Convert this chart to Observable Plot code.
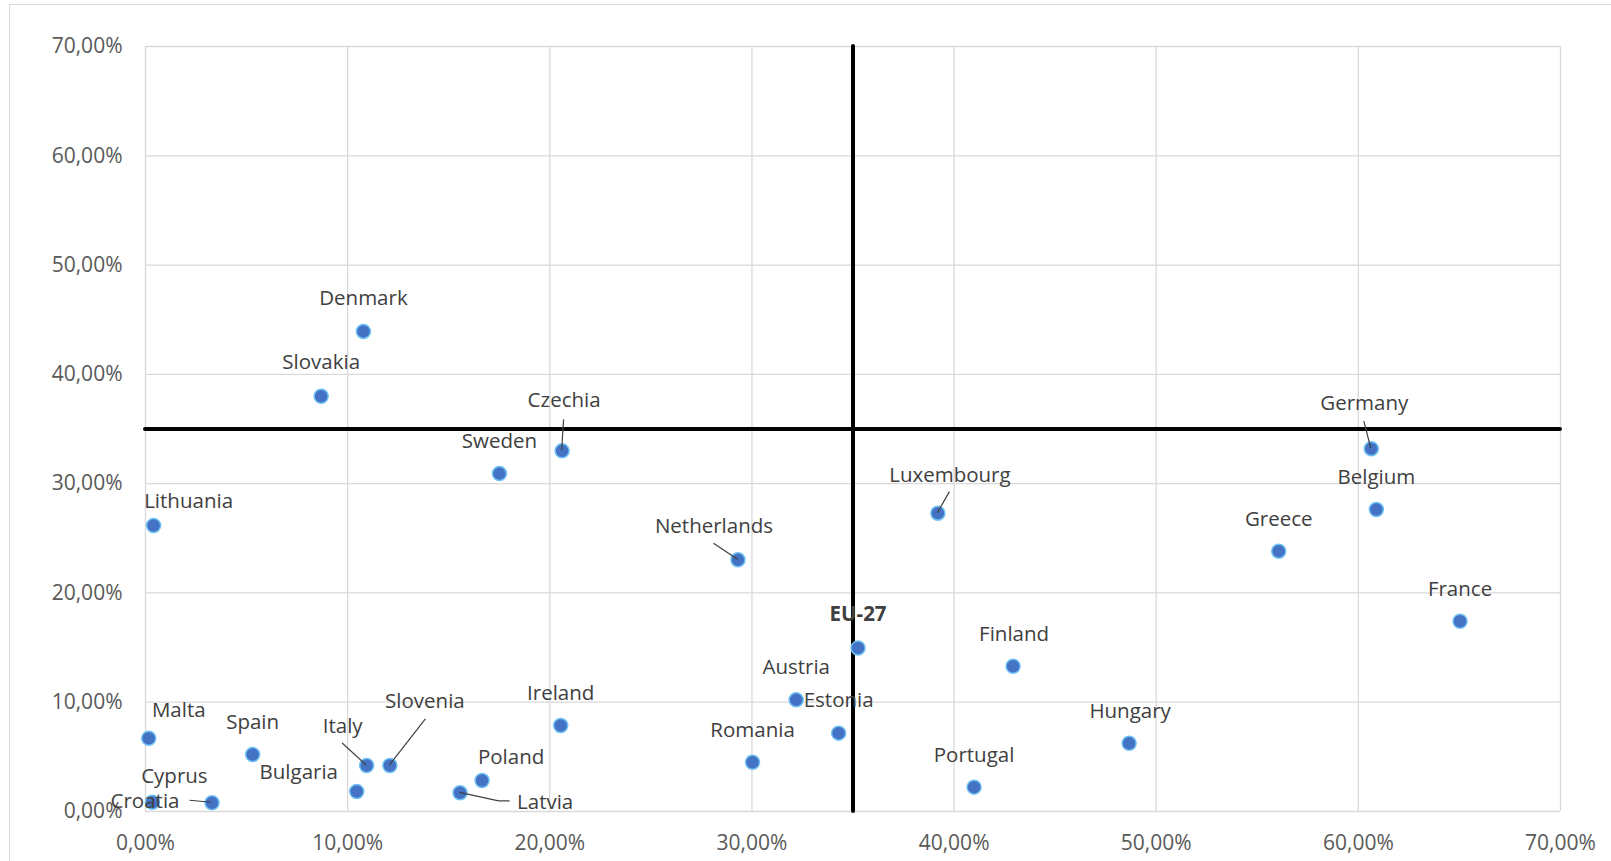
<!DOCTYPE html>
<html>
<head>
<meta charset="utf-8">
<script src="https://cdn.jsdelivr.net/npm/d3@7"></script>
<script src="https://cdn.jsdelivr.net/npm/@observablehq/plot@0.6"></script>
<style>
  html, body { margin: 0; padding: 0; background: #fff; }
  #wrap { position: relative; width: 1611px; height: 861px; overflow: hidden; }
  #border { position: absolute; left: 9px; top: 4px; width: 1700px; height: 1000px; border-top: 1.5px solid #d9d9d9; border-left: 1.5px solid #d9d9d9; pointer-events: none; }
  svg { font-family: "Open Sans", sans-serif; }
</style>
</head>
<body>
<div id="wrap"><div id="border"></div><div id="chart"></div></div>
<script>
// ---- data ----
const countries = ["Denmark","Slovakia","Czechia","Sweden","Netherlands","Lithuania","Luxembourg","Germany","Belgium","Greece","France","EU-27","Austria","Estonia","Romania","Ireland","Portugal","Finland","Hungary","Malta","Spain","Italy","Slovenia","Bulgaria","Poland","Latvia","Cyprus","Croatia"];
const xValues = [10.78, 8.69, 20.61, 17.51, 29.31, 0.40, 39.20, 60.64, 60.89, 56.06, 65.03, 35.25, 32.19, 34.29, 30.03, 20.54, 40.99, 42.92, 48.66, 0.16, 5.30, 10.94, 12.09, 10.45, 16.65, 15.56, 0.34, 3.29];
const yValues = [43.93, 38.00, 33.00, 30.92, 23.03, 26.17, 27.30, 33.20, 27.63, 23.82, 17.41, 14.97, 10.22, 7.17, 4.51, 7.87, 2.23, 13.29, 6.24, 6.70, 5.21, 4.21, 4.21, 1.83, 2.84, 1.71, 0.85, 0.80];
const xTicks = [0, 10, 20, 30, 40, 50, 60, 70];
const yTicks = [0, 10, 20, 30, 40, 50, 60, 70];
const refX = 35;   // EU-27 reference line (x)
const refY = 35;   // EU-27 reference line (y)

// ---- label placement (pixel offsets from the point) ----
const labelOffsets = {
  "Denmark": [0, -33], "Slovakia": [0, -34], "Czechia": [2, -50], "Sweden": [0, -32],
  "Netherlands": [-24, -33], "Lithuania": [35, -24], "Luxembourg": [12, -38], "Germany": [-7, -45],
  "Belgium": [0, -32], "Greece": [0, -32], "France": [0, -32], "EU-27": [0, -33],
  "Austria": [0, -32], "Estonia": [0, -33], "Romania": [0, -32], "Ireland": [0, -32],
  "Portugal": [0, -32], "Finland": [1, -32], "Hungary": [1, -32], "Malta": [30, -28],
  "Spain": [0, -32], "Italy": [-24, -39], "Slovenia": [35, -64], "Bulgaria": [-58, -19],
  "Poland": [29, -23], "Latvia": [57, 10], "Cyprus": [22, -26], "Croatia": [-67, -1.5]
};
const leaderPaths = {
  "Czechia": [[2, -31], [0, 0]],
  "Netherlands": [[-24, -16], [0, 0]],
  "Luxembourg": [[12, -21], [0, 0]],
  "Germany": [[-7, -27], [0, 0]],
  "Italy": [[-24, -22], [0, 0]],
  "Slovenia": [[36, -46], [0, 0]],
  "Latvia": [[50, 8.5], [39, 8.5], [0, 0]],
  "Croatia": [[-22, -2], [0, 0]]
};

const data = countries.map((c, i) => ({country: c, x: xValues[i], y: yValues[i]}));
const fmt = d => d.toFixed(2).replace(".", ",") + "%";

const labelMarks = data.map(d => {
  const [dx, dy] = labelOffsets[d.country];
  return Plot.text([d], {
    x: "x", y: "y", text: "country", dx, dy,
    textAnchor: d.country === "Latvia" ? "start" : "middle",
    fontSize: 20.5,
    fontWeight: d.country === "EU-27" ? "bold" : "normal",
    fill: "#404040"
  });
});

function leaders(index, scales) {
  const g = d3.create("svg:g");
  for (const d of data) {
    const path = leaderPaths[d.country];
    if (!path) continue;
    const px = scales.x(d.x), py = scales.y(d.y);
    g.append("path")
      .attr("d", d3.line()(path.map(([a, b]) => [px + a, py + b])))
      .attr("fill", "none")
      .attr("stroke", "#404040")
      .attr("stroke-width", 1.2);
  }
  return g.node();
}

const chart = Plot.plot({
  width: 1611,
  height: 861,
  marginLeft: 145,
  marginRight: 51,
  marginTop: 46,
  marginBottom: 50,
  style: {fontFamily: "Open Sans, sans-serif", background: "transparent"},
  x: {domain: [0, 70], ticks: xTicks, tickFormat: fmt, label: null},
  y: {domain: [0, 70], ticks: yTicks, tickFormat: fmt, label: null},
  marks: [
    Plot.gridX(xTicks, {stroke: "#d9d9d9", strokeOpacity: 1, strokeWidth: 1.3}),
    Plot.gridY(yTicks, {stroke: "#d9d9d9", strokeOpacity: 1, strokeWidth: 1.3}),
    Plot.axisX(xTicks, {tickSize: 0, tickPadding: 24, tickFormat: fmt, fontSize: 21, fill: "#595959", label: null}),
    Plot.axisY(yTicks, {tickSize: 0, tickPadding: 23, tickFormat: fmt, fontSize: 21, fill: "#595959", label: null}),
    Plot.ruleX([refX], {stroke: "#000", strokeWidth: 4, strokeLinecap: "round"}),
    Plot.ruleY([refY], {stroke: "#000", strokeWidth: 4, strokeLinecap: "round"}),
    Plot.dot(data, {x: "x", y: "y", r: 7, fill: "#4472C4", stroke: "#6EC1F2", strokeWidth: 1.5}),
    leaders,
    ...labelMarks
  ]
});
document.getElementById("chart").appendChild(chart);
</script>
</body>
</html>
